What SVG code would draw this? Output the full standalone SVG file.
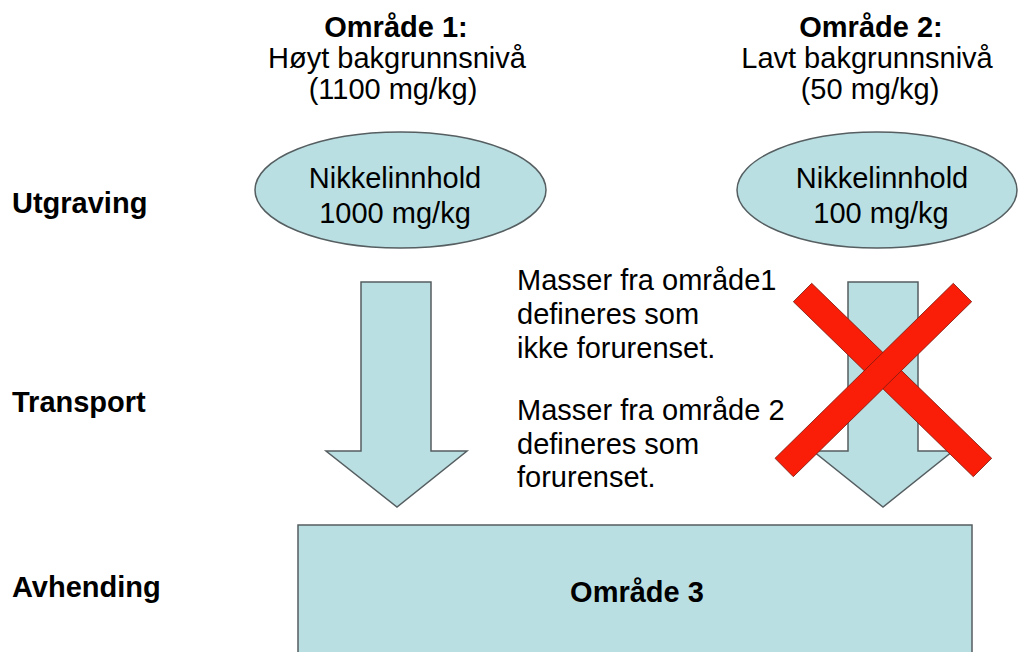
<svg xmlns="http://www.w3.org/2000/svg" width="1018" height="652" viewBox="0 0 1018 652">
<style>
.shape{fill:#badfe3;stroke:#555e60;stroke-width:1.5}
.cross{fill:#fa1e08;stroke:#7a1a10;stroke-width:0.8}
text{font-family:"Liberation Sans",Arial,sans-serif;font-size:29px;fill:#000}
.b{font-weight:bold}
.c{text-anchor:middle}
</style>
<rect width="1018" height="652" fill="#fff"/>
<g id="labels">
<text class="b" x="12" y="213">Utgraving</text>
<text class="b" x="12" y="412">Transport</text>
<text class="b" x="12" y="597">Avhending</text>
</g>
<g id="header1">
<text class="c" x="396" y="37"><tspan class="b">Område 1:</tspan></text>
<text class="c" x="397" y="68">Høyt bakgrunnsnivå</text>
<text class="c" x="393" y="99">(1100 mg/kg)</text>
</g>
<g id="header2">
<text class="c" x="871" y="37"><tspan class="b">Område 2:</tspan></text>
<text class="c" x="867" y="68">Lavt bakgrunnsnivå</text>
<text class="c" x="870" y="99">(50 mg/kg)</text>
</g>
<g id="node1">
<ellipse class="shape" cx="400.5" cy="190" rx="145.5" ry="58"/>
<text class="c" x="395" y="188">Nikkelinnhold</text>
<text class="c" x="395" y="223">1000 mg/kg</text>
</g>
<g id="node2">
<ellipse class="shape" cx="877" cy="190" rx="140" ry="58"/>
<text class="c" x="882" y="188">Nikkelinnhold</text>
<text class="c" x="881" y="223">100 mg/kg</text>
</g>
<g id="connectors">
<polygon id="arrow1" class="shape" points="361,282 431,282 431,451 467,451 397,507 326,451 361,451"/>
<polygon id="arrow2" class="shape" points="848,282 918,282 918,451 953,451 883,507 813,451 848,451"/>
</g>
<g id="cross">
<polygon class="cross" points="811.7,283.3 991.7,458.3 973.3,476.7 793.3,301.7"/>
<polygon class="cross" points="953.3,283.3 971.7,301.7 793.3,476.7 775,458.3"/>
</g>
<g id="note">
<text x="517" y="290">Masser fra område1</text>
<text x="517" y="324">defineres som</text>
<text x="517" y="358">ikke forurenset.</text>
<text x="517" y="420">Masser fra område 2</text>
<text x="517" y="454">defineres som</text>
<text x="517" y="487">forurenset.</text>
</g>
<g id="node3">
<rect class="shape" x="298" y="525" width="674" height="140"/>
<text class="c b" x="637" y="602">Område 3</text>
</g>
</svg>
